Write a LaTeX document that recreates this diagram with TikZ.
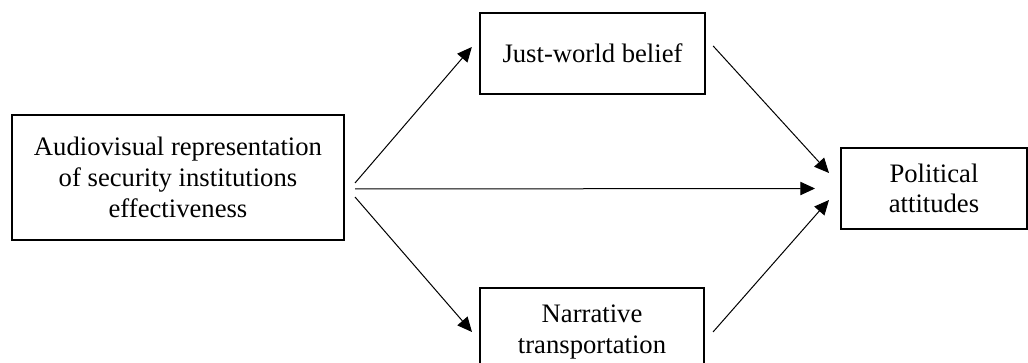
\documentclass[tikz,border=0pt]{standalone}
\usepackage{fontspec}
\setmainfont{Liberation Serif}
\usetikzlibrary{arrows.meta,calc}

\tikzset{every picture/.style={line width=0.75pt}}
\tikzset{
  varbox/.style={draw, line width=1.5pt, align=center, font=\fontsize{20}{23}\selectfont},
  patharrow/.style={line width=0.75pt, -{Triangle[length=11pt,width=10pt]}}
}

\begin{document}
\begin{tikzpicture}[x=0.75pt,y=0.75pt,yscale=-1,xscale=1]
\useasboundingbox (0,0) rectangle (1028,363);

%Shape: Rectangle [id:av]
\node[varbox, minimum width=249pt, minimum height=94pt] (av) at (178,177.5) {Audiovisual representation\\of security institutions\\effectiveness};
%Shape: Rectangle [id:jwb]
\node[varbox, minimum width=169pt, minimum height=61pt] (jwb) at (592.5,53.5) {Just-world belief};
%Shape: Rectangle [id:nt]
\node[varbox, minimum width=168pt, minimum height=66pt] (nt) at (592,332) {Narrative\\transportation};
%Shape: Rectangle [id:pa]
\node[varbox, minimum width=139.5pt, minimum height=61pt] (pa) at (934,188.5) {Political\\attitudes};

%Straight Lines
\draw[patharrow] ($(av.east)+(10,5.5)$) -- ($(jwb.west)+(-7,-6.5)$);
\draw[patharrow] ($(av.east)+(10,11.5)$) -- ($(pa.west)+(-25,0)$);
\draw[patharrow] ($(av.east)+(10,19.5)$) -- ($(nt.west)+(-7,0)$);
\draw[patharrow] ($(jwb.east)+(7,-7.5)$) -- ($(pa.west)+(-11,-15.5)$);
\draw[patharrow] ($(nt.east)+(8,0)$) -- ($(pa.west)+(-11,11.5)$);

\end{tikzpicture}
\end{document}
